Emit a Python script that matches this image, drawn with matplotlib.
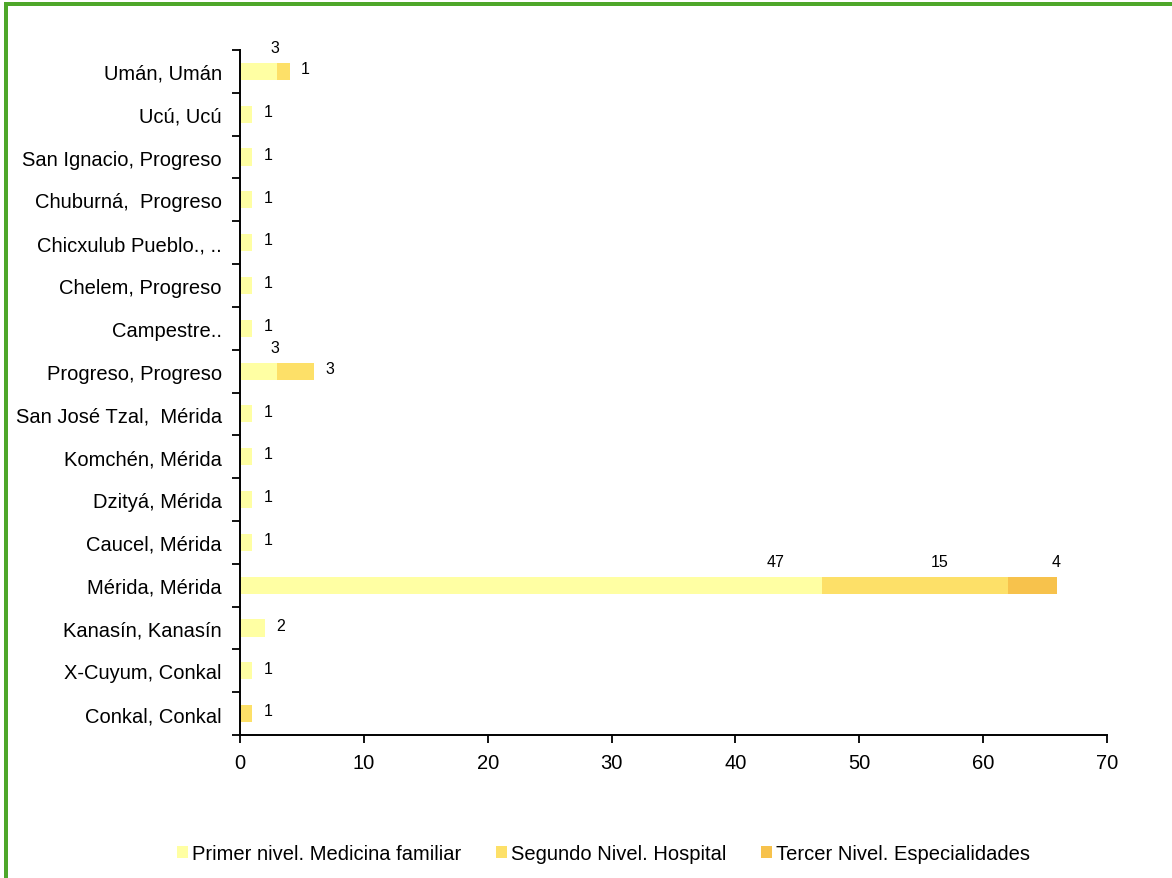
import matplotlib
matplotlib.use("Agg")
import matplotlib.pyplot as plt
from matplotlib.patches import Rectangle, Patch
import numpy as np

plt.rcParams['font.family'] = ['Liberation Sans', 'DejaVu Sans']

categories = [
    "Conkal, Conkal", "X-Cuyum, Conkal", "Kanasín, Kanasín", "Mérida, Mérida",
    "Caucel, Mérida", "Dzityá, Mérida", "Komchén, Mérida", "San José Tzal,  Mérida",
    "Progreso, Progreso", "Campestre..", "Chelem, Progreso", "Chicxulub Pueblo., ..",
    "Chuburná,  Progreso", "San Ignacio, Progreso", "Ucú, Ucú", "Umán, Umán",
]
primer = [0, 1, 2, 47, 1, 1, 1, 1, 3, 1, 1, 1, 1, 1, 1, 3]
segundo = [1, 0, 0, 15, 0, 0, 0, 0, 3, 0, 0, 0, 0, 0, 0, 1]
tercer = [0, 0, 0, 4, 0, 0, 0, 0, 0, 0, 0, 0, 0, 0, 0, 0]
series_names = ["Primer nivel. Medicina familiar", "Segundo Nivel. Hospital",
                "Tercer Nivel. Especialidades"]
colors = ["#FFFFA3", "#FDE068", "#F7C24C"]
xticks = [0, 10, 20, 30, 40, 50, 60, 70]

fig = plt.figure(figsize=(11.72, 8.79), dpi=100)
ax = fig.add_axes([240 / 1172, 1 - 736 / 879, (1107 - 240) / 1172, (736 - 51) / 879])

y = np.arange(len(categories))
series = [primer, segundo, tercer]
left = np.zeros(len(categories))
bar_h = 0.4
for vals, c, name in zip(series, colors, series_names):
    v = np.array(vals, dtype=float)
    ax.barh(y, v, left=left, height=bar_h, color=c, label=name, edgecolor='none')
    left = left + v

# value labels
lab_fs = 11.5
frac_big = [0.92, 0.63, 0.97]
for i in range(len(categories)):
    vals = [s[i] for s in series]
    nz = [k for k, v in enumerate(vals) if v > 0]
    total = sum(vals)
    start = 0
    for k, v in enumerate(vals):
        if v <= 0:
            continue
        end = start + v
        if total >= 10:
            ax.text(start + frac_big[k] * v, y[i] + 0.56, str(v), ha='center', va='center', fontsize=lab_fs)
        elif k == nz[-1]:
            ax.annotate(str(v), (end, y[i]), xytext=(8, 2), textcoords='offset points',
                        ha='left', va='center', fontsize=lab_fs)
        else:
            ax.text(end - 0.2, y[i] + 0.56, str(v), ha='center', va='center', fontsize=lab_fs)
        start = end

ax.set_xlim(0, 70)
ax.set_ylim(-0.5, len(categories) - 0.5)
ax.set_xticks(xticks)
ax.set_xticklabels([str(t) for t in xticks], fontsize=14.5)
ax.set_yticks(y)
ax.set_yticklabels(categories, fontsize=14.5)
ax.tick_params(axis='y', which='major', length=0, pad=13)
ax.set_yticks(np.arange(-0.5, len(categories), 1), minor=True)
ax.tick_params(axis='y', which='minor', length=6, width=1.3, direction='out')
ax.tick_params(axis='x', length=6, width=1.3, direction='out', pad=7)
for s in ['top', 'right']:
    ax.spines[s].set_visible(False)
for s in ['left', 'bottom']:
    ax.spines[s].set_linewidth(1.4)

handles = [Patch(facecolor=c, edgecolor='none') for c in colors]
fig.legend(handles, series_names, loc='center', bbox_to_anchor=(0.515, 1 - 855 / 879),
           ncol=3, frameon=False, fontsize=14.5, handlelength=0.55, handleheight=0.55,
           handletextpad=0.2, columnspacing=1.7)

green = "#4EA72A"
fig.add_artist(Rectangle((4 / 1172, 0), 4 / 1172, 1 - 3 / 879, transform=fig.transFigure,
                         facecolor=green, edgecolor='none'))
fig.add_artist(Rectangle((4 / 1172, 1 - 7 / 879), 1, 4 / 879, transform=fig.transFigure,
                         facecolor=green, edgecolor='none'))

fig.savefig("out.png", dpi=100)
